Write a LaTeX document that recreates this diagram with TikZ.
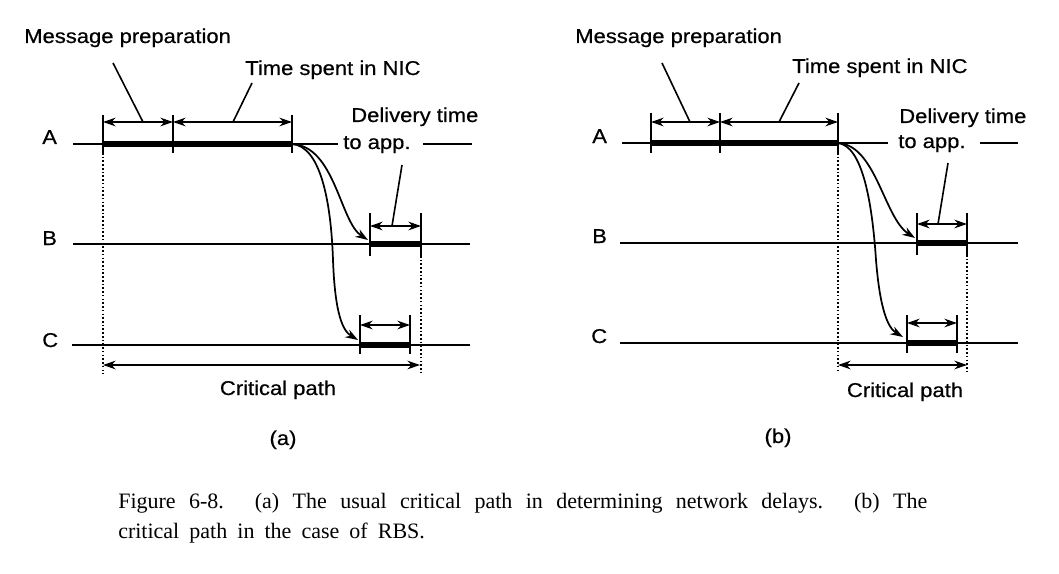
\documentclass[tikz,border=0pt]{standalone}
\usepackage{fontspec}
\usepackage{graphicx}
\usetikzlibrary{arrows.meta}
\newfontfamily\figsans[FakeBold=0.5]{Liberation Sans}
\newfontfamily\figserif{Liberation Serif}
\newcommand{\wtext}[1]{\scalebox{1.1}[1]{#1}}
\tikzset{
  timeline/.style={line width=1.35pt},
  thickbar/.style={line width=4pt},
  tickmark/.style={line width=1.2pt},
  dimarrow/.style={line width=1.35pt,{Stealth[length=9.5pt,width=6.5pt]}-{Stealth[length=9.5pt,width=6.5pt]}},
  leaderline/.style={line width=1.2pt},
  dotline/.style={line width=1.2pt,dash pattern=on 1.2pt off 1.6pt},
  flowarrow/.style={line width=1.3pt,-{Stealth[length=9.5pt,width=6.5pt]}},
  labeltext/.style={font=\figsans\fontsize{15pt}{17pt}\selectfont,inner sep=0pt},
  captext/.style={font=\figserif\fontsize{16.5pt}{22pt}\selectfont,inner sep=0pt,anchor=base west}
}
\begin{document}
\begin{tikzpicture}[x=0.75pt,y=-0.75pt]
\useasboundingbox (0,0) rectangle (1059,574);
\fill[white] (0,0) rectangle (1059,574);

% ================= Panel (a) =================
% time lines
\coordinate (aA0) at (73,144);  \coordinate (aA1) at (338,144);
\coordinate (aA2) at (423,144); \coordinate (aA3) at (472,144);
\coordinate (aB0) at (73,244);  \coordinate (aB1) at (470,244);
\coordinate (aC0) at (72,345);  \coordinate (aC1) at (470,345);
\draw[timeline] (aA0) -- (aA1);
\draw[timeline] (aA2) -- (aA3);
\draw[timeline] (aB0) -- (aB1);
\draw[timeline] (aC0) -- (aC1);
% thick bars
\coordinate (aP1) at (103,144); \coordinate (aP2) at (173,144); \coordinate (aP3) at (292,144);
\coordinate (aQ1) at (370,244); \coordinate (aQ2) at (421,244);
\coordinate (aR1) at (360,345); \coordinate (aR2) at (410,345);
\draw[thickbar] (aP1) -- (aP3);
\draw[thickbar] (aQ1) -- (aQ2);
\draw[thickbar] (aR1) -- (aR2);
% ticks
\coordinate (aT1a) at (103,115); \coordinate (aT1b) at (103,153);
\coordinate (aT2a) at (173,115); \coordinate (aT2b) at (173,153);
\coordinate (aT3a) at (292,115); \coordinate (aT3b) at (292,153);
\coordinate (aT4a) at (370,213); \coordinate (aT4b) at (370,256);
\coordinate (aT5a) at (421,213); \coordinate (aT5b) at (421,256);
\coordinate (aT6a) at (360,315); \coordinate (aT6b) at (360,354);
\coordinate (aT7a) at (410,315); \coordinate (aT7b) at (410,354);
\foreach \t in {1,...,7} \draw[tickmark] (aT\t a) -- (aT\t b);
% dimension arrows
\coordinate (aD1) at (103,122); \coordinate (aD2) at (173,122); \coordinate (aD3) at (292,122);
\coordinate (aD4) at (370,226); \coordinate (aD5) at (421,226);
\coordinate (aD6) at (360,325); \coordinate (aD7) at (410,325);
\draw[dimarrow] (aD1) -- (aD2);
\draw[dimarrow] (aD2) -- (aD3);
\draw[dimarrow] (aD4) -- (aD5);
\draw[dimarrow] (aD6) -- (aD7);
% dotted lines and critical path
\coordinate (aV1) at (103,374); \coordinate (aV2) at (421,374);
\draw[dotline] (aT1b) -- (aV1);
\draw[dotline] (aT5b) -- (aV2);
\coordinate (aK1) at (103,365); \coordinate (aK2) at (420,365);
\draw[dimarrow] (aK1) -- (aK2);
% messages
\coordinate (aTipB) at (368,240); \coordinate (aTipC) at (358,340);
\draw[flowarrow] (aP3) .. controls (335,146) and (340,222) .. (aTipB);
\draw[flowarrow] (aP3) .. controls (320,146) and (331,200) .. (333,260)
                  .. controls (335,315) and (343,331) .. (aTipC);
% leaders
\coordinate (aL1a) at (113,63);  \coordinate (aL1b) at (143,122);
\coordinate (aL2a) at (252,83);  \coordinate (aL2b) at (233,122);
\coordinate (aL3a) at (402,165); \coordinate (aL3b) at (392,226);
\draw[leaderline] (aL1a) -- (aL1b);
\draw[leaderline] (aL2a) -- (aL2b);
\draw[leaderline] (aL3a) -- (aL3b);
% labels
\node[labeltext,anchor=base west] (amp) at (24,43) {\wtext{Message preparation}};
\node[labeltext,anchor=base west] (anic) at (245,75) {\wtext{Time spent in NIC}};
\node[labeltext,anchor=base west] (adel) at (351,122) {\wtext{Delivery time}};
\node[labeltext,anchor=base west] (aapp) at (343,149) {\wtext{to app.}};
\node[labeltext,anchor=base west] (alA) at (42,144) {\wtext{A}};
\node[labeltext,anchor=base west] (alB) at (42,245) {\wtext{B}};
\node[labeltext,anchor=base west] (alC) at (42,347) {\wtext{C}};
\node[labeltext,anchor=base] (acp) at (278,395) {\wtext{Critical path}};
\node[labeltext,anchor=base] (acap) at (283,445) {\wtext{(a)}};

% ================= Panel (b) =================
\coordinate (bA0) at (622,143); \coordinate (bA1) at (888,143);
\coordinate (bA2) at (980,143); \coordinate (bA3) at (1018,143);
\coordinate (bB0) at (620,243); \coordinate (bB1) at (1018,243);
\coordinate (bC0) at (620,343); \coordinate (bC1) at (1018,343);
\draw[timeline] (bA0) -- (bA1);
\draw[timeline] (bA2) -- (bA3);
\draw[timeline] (bB0) -- (bB1);
\draw[timeline] (bC0) -- (bC1);
\coordinate (bP1) at (651,143); \coordinate (bP2) at (720,143); \coordinate (bP3) at (838,143);
\coordinate (bQ1) at (917,243); \coordinate (bQ2) at (967,243);
\coordinate (bR1) at (907,343); \coordinate (bR2) at (957,343);
\draw[thickbar] (bP1) -- (bP3);
\draw[thickbar] (bQ1) -- (bQ2);
\draw[thickbar] (bR1) -- (bR2);
\coordinate (bT1a) at (651,113); \coordinate (bT1b) at (651,153);
\coordinate (bT2a) at (720,113); \coordinate (bT2b) at (720,153);
\coordinate (bT3a) at (838,113); \coordinate (bT3b) at (838,153);
\coordinate (bT4a) at (917,213); \coordinate (bT4b) at (917,255);
\coordinate (bT5a) at (967,213); \coordinate (bT5b) at (967,255);
\coordinate (bT6a) at (907,315); \coordinate (bT6b) at (907,353);
\coordinate (bT7a) at (957,315); \coordinate (bT7b) at (957,353);
\foreach \t in {1,...,7} \draw[tickmark] (bT\t a) -- (bT\t b);
\coordinate (bD1) at (651,122); \coordinate (bD2) at (720,122); \coordinate (bD3) at (838,122);
\coordinate (bD4) at (917,224); \coordinate (bD5) at (967,224);
\coordinate (bD6) at (907,323); \coordinate (bD7) at (957,323);
\draw[dimarrow] (bD1) -- (bD2);
\draw[dimarrow] (bD2) -- (bD3);
\draw[dimarrow] (bD4) -- (bD5);
\draw[dimarrow] (bD6) -- (bD7);
\coordinate (bV1) at (838,373); \coordinate (bV2) at (967,373);
\draw[dotline] (bT3b) -- (bV1);
\draw[dotline] (bT5b) -- (bV2);
\coordinate (bK1) at (838,365); \coordinate (bK2) at (967,365);
\draw[dimarrow] (bK1) -- (bK2);
\coordinate (bTipB) at (915,238); \coordinate (bTipC) at (903,337);
\draw[flowarrow] (bP3) .. controls (876,145) and (884,218) .. (bTipB);
\draw[flowarrow] (bP3) .. controls (862,146) and (872,200) .. (876,260)
                  .. controls (880,310) and (888,328) .. (bTipC);
\coordinate (bL1a) at (662,63);  \coordinate (bL1b) at (690,122);
\coordinate (bL2a) at (799,83);  \coordinate (bL2b) at (779,122);
\coordinate (bL3a) at (948,163); \coordinate (bL3b) at (938,224);
\draw[leaderline] (bL1a) -- (bL1b);
\draw[leaderline] (bL2a) -- (bL2b);
\draw[leaderline] (bL3a) -- (bL3b);
\node[labeltext,anchor=base west] (bmp) at (575,43) {\wtext{Message preparation}};
\node[labeltext,anchor=base west] (bnic) at (792,73) {\wtext{Time spent in NIC}};
\node[labeltext,anchor=base west] (bdel) at (899,123) {\wtext{Delivery time}};
\node[labeltext,anchor=base west] (bapp) at (898,148) {\wtext{to app.}};
\node[labeltext,anchor=base west] (blA) at (592,143) {\wtext{A}};
\node[labeltext,anchor=base west] (blB) at (592,243) {\wtext{B}};
\node[labeltext,anchor=base west] (blC) at (591,343) {\wtext{C}};
\node[labeltext,anchor=base] (bcp) at (905,397) {\wtext{Critical path}};
\node[labeltext,anchor=base] (bcap) at (778,443) {\wtext{(b)}};

% ================= Caption =================
\node[captext] (cap1) at (118,508) {\makebox[606.75pt][s]{Figure 6-8. (a) The usual critical path in determining network delays. (b) The}};
\node[captext] (cap2) at (118,538) {\makebox[230pt][s]{critical path in the case of RBS.}};
\end{tikzpicture}
\end{document}
